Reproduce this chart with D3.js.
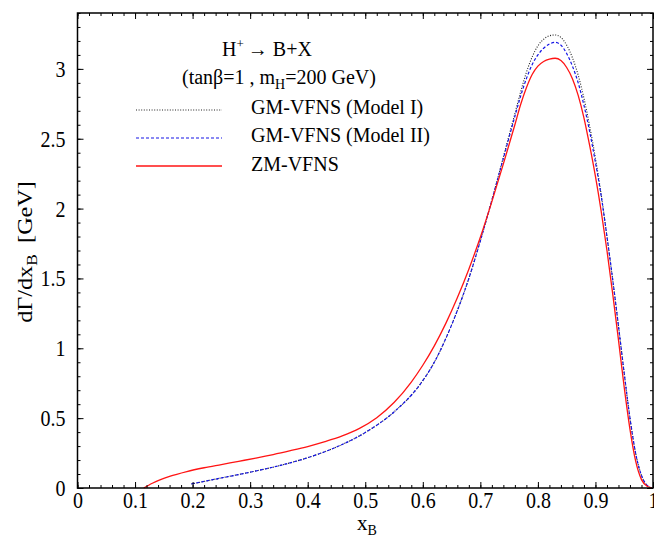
<!DOCTYPE html>
<html>
<head>
<meta charset="utf-8">
<script src="https://cdn.jsdelivr.net/npm/d3@7"></script>
<style>
  html, body { margin: 0; padding: 0; background: #fff; }
  svg text { font-family: "Liberation Serif", "Times New Roman", serif; fill: #000; }
</style>
</head>
<body>
<svg id="chart" width="654" height="538"></svg>
<script>
// Differential decay width dΓ/dx_B for H+ -> B + X  (tanβ = 1, m_H = 200 GeV)
const zmX  = [0.115, 0.13, 0.16, 0.19, 0.22, 0.25, 0.28, 0.31, 0.34, 0.37, 0.40, 0.43, 0.46, 0.49, 0.52, 0.55, 0.58, 0.60, 0.62, 0.64, 0.66, 0.68, 0.70, 0.72, 0.74, 0.76, 0.77, 0.78, 0.79, 0.80, 0.81, 0.82, 0.83, 0.84, 0.85, 0.86, 0.87, 0.88, 0.89, 0.90, 0.91, 0.92, 0.93, 0.94, 0.95, 0.96, 0.97, 0.98, 0.99, 0.998];
const zmY  = [0.0, 0.034, 0.0835, 0.118, 0.145, 0.168, 0.191, 0.214, 0.239, 0.267, 0.297, 0.332, 0.373, 0.427, 0.5035, 0.6115, 0.7585, 0.8785, 1.0175, 1.1785, 1.3615, 1.5665, 1.795, 2.05, 2.32, 2.60, 2.745, 2.865, 2.96, 3.02, 3.053, 3.07, 3.076, 3.06, 3.01, 2.93, 2.81, 2.65, 2.45, 2.23, 1.98, 1.70, 1.39, 1.06, 0.72, 0.42, 0.19, 0.06, 0.012, 0.0];

const gm2X = [0.198, 0.25, 0.30, 0.35, 0.40, 0.45, 0.50, 0.55, 0.595, 0.62, 0.64, 0.66, 0.68, 0.70, 0.72, 0.74, 0.76, 0.77, 0.78, 0.79, 0.80, 0.81, 0.82, 0.83, 0.84, 0.85, 0.86, 0.87, 0.88, 0.89, 0.90, 0.91, 0.92, 0.93, 0.94, 0.95, 0.96, 0.97, 0.98, 0.99, 0.998];
const gm2Y = [0.029, 0.0719, 0.1132, 0.1595, 0.217, 0.2933, 0.397, 0.5445, 0.74, 0.90, 1.07, 1.27, 1.50, 1.77, 2.06, 2.36, 2.66, 2.805, 2.93, 3.03, 3.10, 3.148, 3.178, 3.19, 3.17, 3.11, 3.02, 2.90, 2.74, 2.55, 2.33, 2.09, 1.80, 1.49, 1.16, 0.82, 0.50, 0.245, 0.09, 0.018, 0.0];

const gm1X = [0.198, 0.25, 0.30, 0.35, 0.40, 0.45, 0.50, 0.55, 0.595, 0.62, 0.64, 0.66, 0.68, 0.70, 0.72, 0.74, 0.75, 0.76, 0.77, 0.78, 0.79, 0.80, 0.81, 0.82, 0.83, 0.84, 0.85, 0.86, 0.87, 0.88, 0.89, 0.90, 0.91, 0.92, 0.93, 0.94, 0.95, 0.96, 0.97, 0.98, 0.99, 0.998];
const gm1Y = [0.029, 0.0719, 0.1132, 0.1595, 0.217, 0.2933, 0.397, 0.5445, 0.74, 0.90, 1.07, 1.27, 1.50, 1.77, 2.06, 2.37, 2.525, 2.68, 2.835, 2.975, 3.085, 3.165, 3.212, 3.237, 3.243, 3.225, 3.17, 3.08, 2.955, 2.79, 2.59, 2.36, 2.10, 1.80, 1.49, 1.16, 0.82, 0.50, 0.245, 0.09, 0.018, 0.0];

const xTicks = [0, 0.1, 0.2, 0.3, 0.4, 0.5, 0.6, 0.7, 0.8, 0.9, 1];
const yTicks = [0, 0.5, 1, 1.5, 2, 2.5, 3];
const seriesNames = ["GM-VFNS (Model I)", "GM-VFNS (Model II)", "ZM-VFNS"];

const svg = d3.select("#chart");
const W = 654, H = 538;
const margin = { left: 77.5, right: 1, top: 13, bottom: 50 };
const x = d3.scaleLinear().domain([0, 1]).range([margin.left, W - margin.right]);
const y = d3.scaleLinear().domain([0, 3.4]).range([H - margin.bottom, margin.top]);

const series = [
  { name: seriesNames[0], xs: gm1X, ys: gm1Y, color: "#222", width: 1.1, dash: "1,1.6" },
  { name: seriesNames[1], xs: gm2X, ys: gm2Y, color: "#1414e6", width: 1.2, dash: "3,2" },
  { name: seriesNames[2], xs: zmX,  ys: zmY,  color: "#ff1414", width: 1.3, dash: null }
];

const line = d3.line().x(d => x(d[0])).y(d => y(d[1])).curve(d3.curveMonotoneX);

const plot = svg.append("g");
series.forEach(s => {
  plot.append("path")
    .datum(s.xs.map((v, i) => [v, s.ys[i]]))
    .attr("fill", "none")
    .attr("stroke", s.color)
    .attr("stroke-width", s.width)
    .attr("stroke-dasharray", s.dash)
    .attr("d", line);
});

// Inward ticks on all four sides: minor every 0.02 / 0.1, major with labels
const xMinor = d3.range(0, 1.0001, 0.02);
const yMinor = d3.range(0, 3.4001, 0.1);
const yBottom = y(0), yTop = y(3.4), xLeft = x(0), xRight = x(1);

function styleAxis(g) {
  g.select(".domain").remove();
  g.selectAll(".tick line").attr("stroke", "#000").attr("stroke-width", 1);
}

svg.append("g").attr("transform", `translate(0,${yBottom})`)
  .call(d3.axisBottom(x).tickValues(xMinor).tickSize(-3).tickFormat("")).call(styleAxis);
svg.append("g").attr("transform", `translate(0,${yTop})`)
  .call(d3.axisTop(x).tickValues(xMinor).tickSize(-3).tickFormat("")).call(styleAxis);
svg.append("g").attr("transform", `translate(${xLeft},0)`)
  .call(d3.axisLeft(y).tickValues(yMinor).tickSize(-3).tickFormat("")).call(styleAxis);
svg.append("g").attr("transform", `translate(${xRight},0)`)
  .call(d3.axisRight(y).tickValues(yMinor).tickSize(-3).tickFormat("")).call(styleAxis);

const xAxis = svg.append("g").attr("transform", `translate(0,${yBottom})`)
  .call(d3.axisBottom(x).tickValues(xTicks).tickSize(-6).tickFormat(d3.format("")))
  .call(styleAxis);
xAxis.selectAll("text")
  .attr("font-size", 20).attr("y", null).attr("dy", null)
  .attr("transform", "translate(0,20) scale(1,1.12)");
svg.append("g").attr("transform", `translate(0,${yTop})`)
  .call(d3.axisTop(x).tickValues(xTicks).tickSize(-6).tickFormat("")).call(styleAxis);

const yAxis = svg.append("g").attr("transform", `translate(${xLeft},0)`)
  .call(d3.axisLeft(y).tickValues(yTicks).tickSize(-6).tickFormat(d3.format("")))
  .call(styleAxis);
yAxis.selectAll("text")
  .attr("font-size", 20).attr("x", null).attr("dy", null)
  .attr("transform", "translate(-12,7.5) scale(1,1.15)");
svg.append("g").attr("transform", `translate(${xRight},0)`)
  .call(d3.axisRight(y).tickValues(yTicks).tickSize(-6).tickFormat("")).call(styleAxis);

// Frame
svg.append("rect")
  .attr("x", xLeft).attr("y", yTop)
  .attr("width", xRight - xLeft).attr("height", yBottom - yTop)
  .attr("fill", "none").attr("stroke", "#000").attr("stroke-width", 1.5);

// Axis titles
const xt = svg.append("text").attr("transform", "translate(357,530)").attr("font-size", 21);
xt.append("tspan").text("x");
xt.append("tspan").attr("font-size", 14).attr("dy", 5).text("B");

const yt = svg.append("text")
  .attr("transform", "translate(32,252) rotate(-90) scale(1.15,1)")
  .attr("text-anchor", "middle").attr("font-size", 21);
yt.append("tspan").text("dΓ/dx");
yt.append("tspan").attr("font-size", 15).attr("dy", 5).text("B");
yt.append("tspan").attr("dy", -5).attr("dx", 10).text("[GeV]");

// Legend block
const t1 = svg.append("text").attr("x", 222).attr("y", 56).attr("font-size", 20);
t1.append("tspan").text("H");
t1.append("tspan").attr("font-size", 13).attr("dy", -8).text("+");
t1.append("tspan").attr("dy", 8).attr("dx", 4).text("→ B+X");

const t2 = svg.append("text").attr("x", 182).attr("y", 84).attr("font-size", 20);
t2.append("tspan").text("(tanβ=1 , m");
t2.append("tspan").attr("font-size", 14).attr("dy", 5).text("H");
t2.append("tspan").attr("dy", -5).text("=200 GeV)");

const legY = [110, 138, 166];
series.forEach((s, i) => {
  svg.append("line")
    .attr("x1", 136).attr("x2", 222)
    .attr("y1", legY[i]).attr("y2", legY[i])
    .attr("stroke", s.color).attr("stroke-width", s.width)
    .attr("stroke-dasharray", s.dash);
  svg.append("text").attr("x", 251).attr("y", legY[i] + 4 + (i === 2 ? 1 : 0))
    .attr("font-size", 20).text(s.name);
});
</script>
</body>
</html>
